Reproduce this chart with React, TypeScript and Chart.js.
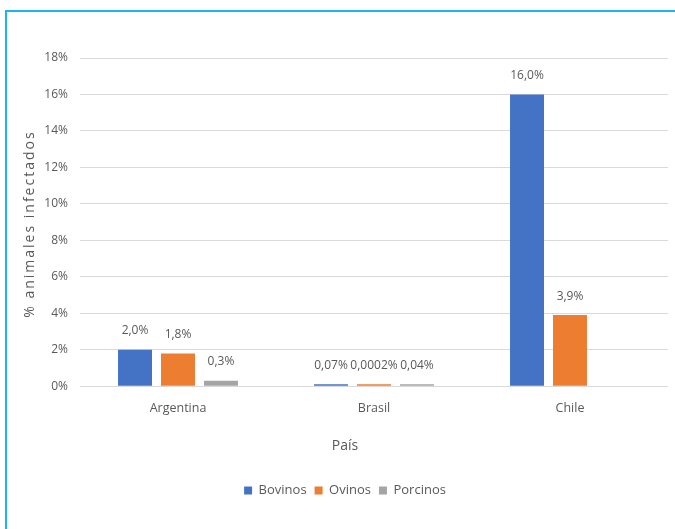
import React, { useEffect, useRef } from "react";
import { Chart, registerables } from "chart.js";

Chart.register(...registerables);

const categories = ["Argentina", "Brasil", "Chile"];
const bovinos = [2.0, 0.07, 16.0];
const ovinos = [1.8, 0.0002, 3.9];
const porcinos: (number | null)[] = [0.3, 0.04, null];
const bovinosLabels = ["2,0%", "0,07%", "16,0%"];
const ovinosLabels = ["1,8%", "0,0002%", "3,9%"];
const porcinosLabels = ["0,3%", "0,04%", ""];
const yTicks = [0, 2, 4, 6, 8, 10, 12, 14, 16, 18];
const yTitle = "% animales infectados";

const FONT = "'Open Sans', Lato, sans-serif";
const TEXT = "#595959";

const labelPlugin = {
  id: "barLabels",
  afterDatasetsDraw(chart: any) {
    const ctx = chart.ctx;
    const all = [bovinosLabels, ovinosLabels, porcinosLabels];
    ctx.save();
    ctx.font = `12px ${FONT}`;
    ctx.fillStyle = TEXT;
    ctx.textAlign = "center";
    ctx.textBaseline = "middle";
    chart.data.datasets.forEach((ds: any, di: number) => {
      const meta = chart.getDatasetMeta(di);
      meta.data.forEach((el: any, i: number) => {
        const txt = all[di][i];
        if (!txt || ds.data[i] == null) return;
        ctx.fillText(txt, el.x, el.y - 19);
      });
    });
    // y axis title, letter-spaced
    const ca = chart.chartArea;
    ctx.translate(30, (ca.top + ca.bottom) / 2 + 2);
    ctx.rotate(-Math.PI / 2);
    ctx.font = `14px ${FONT}`;
    try {
      (ctx as any).letterSpacing = "2px";
    } catch (e) {}
    ctx.fillText(yTitle, 0, 0);
    ctx.restore();
  },
};

export default function App() {
  const ref = useRef<HTMLCanvasElement>(null);
  useEffect(() => {
    const chart = new Chart(ref.current!, {
      type: "bar",
      data: {
        labels: categories,
        datasets: [
          { label: "Bovinos", data: bovinos, backgroundColor: "#4472C4" },
          { label: "Ovinos", data: ovinos, backgroundColor: "#ED7D31" },
          { label: "Porcinos", data: porcinos, backgroundColor: "#A5A5A5" },
        ],
      },
      options: {
        responsive: false,
        animation: false,
        maintainAspectRatio: false,
        datasets: {
          bar: { categoryPercentage: 0.658, barPercentage: 0.79, minBarLength: 2 },
        },
        layout: { padding: { top: 58, right: 7, left: 22, bottom: 22 } },
        scales: {
          x: {
            grid: { display: false, drawTicks: false },
            border: { display: false },
            ticks: { color: TEXT, font: { size: 12.5, family: FONT }, padding: 15 },
          },
          y: {
            min: 0,
            max: 18,
            afterBuildTicks(axis: any) {
              axis.ticks = yTicks.map((v) => ({ value: v }));
            },
            afterFit(axis: any) {
              axis.width = 58;
            },
            grid: { color: "#D9D9D9", drawTicks: false },
            border: { display: false },
            ticks: {
              color: TEXT,
              font: { size: 12, family: FONT },
              padding: 12,
              callback: (v: any) => v + "%",
            },
          },
        },
        plugins: {
          legend: {
            position: "bottom",
            weight: 3000,
            labels: {
              color: TEXT,
              font: { size: 13, family: FONT },
              boxWidth: 8,
              boxHeight: 8,
              padding: 8,
            },
          },
          title: {
            display: true,
            position: "bottom",
            weight: 500,
            text: "País",
            color: TEXT,
            font: { size: 14, family: FONT, weight: "normal" },
            padding: { top: 6, bottom: 22 },
          },
          tooltip: { enabled: false },
        },
      },
      plugins: [labelPlugin],
    });
    return () => chart.destroy();
  }, []);
  return (
    <div style={{ position: "fixed", left: 0, top: 0, width: 675, height: 529, background: "#fff", overflow: "hidden" }}>
      <div
        style={{
          position: "absolute",
          left: 5,
          top: 10,
          width: 700,
          height: 560,
          borderLeft: "2px solid #1CB5F0",
          borderTop: "2px solid #1CB5F0",
        }}
      />
      <canvas ref={ref} width={675} height={529} style={{ position: "absolute", left: 0, top: 0 }} />
    </div>
  );
}
